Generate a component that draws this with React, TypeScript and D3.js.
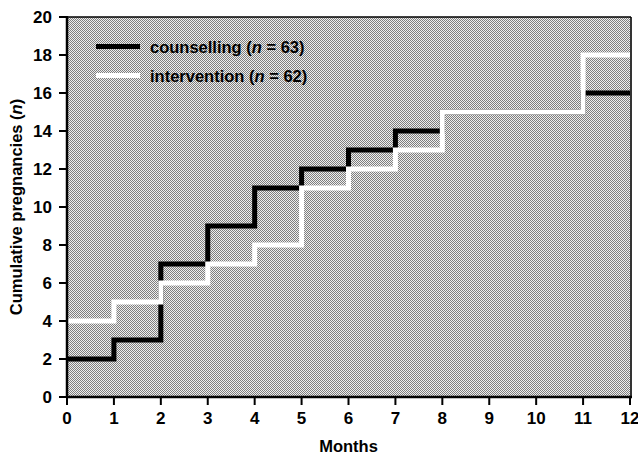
import React from "react";
import * as d3 from "d3";

const months = [0, 1, 2, 3, 4, 5, 6, 7, 8, 9, 10, 11, 12];
const counselling = [2, 3, 7, 9, 11, 12, 13, 14, 15, 15, 15, 16, 16];
const intervention = [4, 5, 6, 7, 8, 11, 12, 13, 15, 15, 15, 18, 18];
const yTicks = [0, 2, 4, 6, 8, 10, 12, 14, 16, 18, 20];
const xTicks = months;
const seriesNames = ["counselling", "intervention"];
const seriesN = [63, 62];

const W = 638;
const H = 456;
const left = 67;
const right = 630;
const top = 17;
const bottom = 397;
const FONT = "'Liberation Sans', Arial, Helvetica, sans-serif";

export default function App() {
  const x = d3.scaleLinear().domain([0, 12]).range([left, right]);
  const y = d3.scaleLinear().domain([0, 20]).range([bottom, top]);
  const line = d3
    .line<number>()
    .x((_, i) => x(months[i]))
    .y((d) => y(d))
    .curve(d3.curveStepAfter);

  return (
    <svg
      width={W}
      height={H}
      style={{ position: "absolute", left: 0, top: 0, display: "block", background: "#fff" }}
      fontFamily={FONT}
      fontWeight="bold"
    >
      <defs>
        <pattern id="dither" width={2} height={2} patternUnits="userSpaceOnUse">
          <rect x={0} y={0} width={2} height={2} fill="#eeeeee" shapeRendering="crispEdges" />
          <rect x={0} y={0} width={1} height={1} fill="#7e7e7e" shapeRendering="crispEdges" />
          <rect x={1} y={1} width={1} height={1} fill="#7e7e7e" shapeRendering="crispEdges" />
        </pattern>
      </defs>
      <rect x={left} y={top} width={right - left} height={bottom - top} fill="url(#dither)" />
      {/* frame top/right */}
      <line x1={left} x2={right + 1} y1={top} y2={top} stroke="#000" strokeWidth={1.6} />
      <line x1={right + 1} x2={right + 1} y1={top} y2={bottom} stroke="#000" strokeWidth={1.6} />

      {/* series */}
      <path d={line(counselling) || ""} fill="none" stroke="#000" strokeWidth={5} strokeLinejoin="miter" />
      <path d={line(intervention) || ""} fill="none" stroke="#fff" strokeWidth={5} strokeLinejoin="miter" />

      {/* axes */}
      <line x1={left} x2={left} y1={top - 1} y2={bottom + 1} stroke="#000" strokeWidth={2.5} />
      <line x1={left - 1} x2={right + 2} y1={bottom} y2={bottom} stroke="#000" strokeWidth={2.5} />
      {yTicks.map((t) => (
        <g key={"y" + t}>
          <line x1={left - 8} x2={left} y1={y(t)} y2={y(t)} stroke="#000" strokeWidth={2} />
          <text x={52} y={y(t)} dy="0.36em" textAnchor="end" fontSize={17}>
            {t}
          </text>
        </g>
      ))}
      {xTicks.map((t) => (
        <g key={"x" + t}>
          <line x1={x(t)} x2={x(t)} y1={bottom} y2={bottom + 8} stroke="#000" strokeWidth={2} />
          <text x={x(t)} y={424} textAnchor="middle" fontSize={17}>
            {t}
          </text>
        </g>
      ))}

      {/* axis titles */}
      <text x={(left + right) / 2} y={452} textAnchor="middle" fontSize={16.5}>
        Months
      </text>
      <text
        transform={`translate(22, ${(top + bottom) / 2}) rotate(-90)`}
        textAnchor="middle"
        fontSize={16.5}
      >
        Cumulative pregnancies (<tspan fontStyle="italic">n</tspan>)
      </text>

      {/* legend */}
      {seriesNames.map((name, i) => (
        <g key={name}>
          <line
            x1={96}
            x2={140}
            y1={46.5 + i * 29}
            y2={46.5 + i * 29}
            stroke={i === 0 ? "#000" : "#fff"}
            strokeWidth={5}
          />
          <text x={150} y={52.5 + i * 29} fontSize={16.5}>
            {name} (<tspan fontStyle="italic">n</tspan> = {seriesN[i]})
          </text>
        </g>
      ))}
    </svg>
  );
}
